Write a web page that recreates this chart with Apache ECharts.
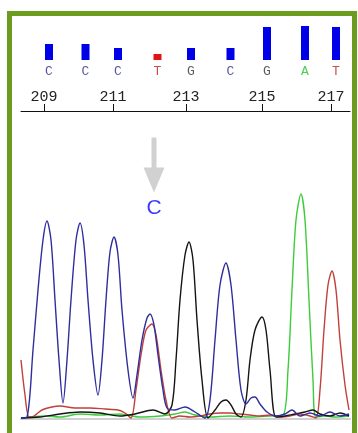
<!DOCTYPE html>
<html>
<head>
<meta charset="utf-8">
<script src="https://cdn.jsdelivr.net/npm/echarts@6/dist/echarts.min.js"></script>
<style>
  html, body { margin: 0; padding: 0; background: #ffffff; }
  #chart { width: 358px; height: 433px; }
</style>
</head>
<body>
<div id="chart"></div>
<script>
// Base calls, their scan positions and quality values
const BASES = ['C', 'C', 'C', 'T', 'G', 'C', 'G', 'A', 'T'];
const BASE_SCAN = [28, 64.5, 97, 136.5, 170, 209.5, 246, 284, 315];
const QUALITY = [16, 16, 12, 6, 12, 12, 33, 34, 33];
const LOW_QUALITY = 10;

// Ruler ticks (base numbering)
const TICK_SCAN = [23, 92, 165, 241, 310];
const TICK_LABEL = ['209', '211', '213', '215', '217'];

// Variant marker
const VARIANT_SCAN = 133;
const VARIANT_LEVEL = 254;
const VARIANT_CALL = 'C';

// Trace intensities per channel: [scan, signal]
const TRACE_A = [
  [0, 1], [9, 2], [24, 3], [39, 2], [59, 5], [79, 4], [99, 5], [119, 2], [139, 3],
  [154, 5], [164, 7], [174, 4], [189, 2], [209, 3], [229, 2], [249, 3], [262, 4],
  [267, 49], [271, 129], [275, 199], [280, 225], [284, 199], [288, 119], [292, 39],
  [295, 2], [304, 3], [314, 2], [328, 3]
];
const TRACE_C = [
  [0, 1], [6, 2], [12, 69], [17, 129], [22, 179], [26, 198], [30, 179], [34, 119],
  [38, 59], [42, 16], [46, 59], [50, 119], [55, 179], [59, 196], [63, 174], [67, 119],
  [72, 59], [77, 24], [81, 59], [85, 119], [89, 167], [93, 182], [97, 164], [101, 109],
  [107, 49], [112, 21], [116, 44], [121, 79], [126, 101], [129, 105], [133, 94],
  [137, 64], [142, 29], [146, 11], [154, 9], [164, 12], [174, 7], [184, 1], [189, 19],
  [194, 79], [199, 134], [205, 156], [210, 134], [215, 79], [220, 29], [225, 15],
  [230, 21], [234, 22], [239, 15], [246, 7], [255, 3], [264, 5], [271, 9], [279, 3],
  [289, 6], [299, 3], [309, 7], [319, 3], [328, 5]
];
const TRACE_G = [
  [0, 1], [19, 2], [39, 5], [59, 7], [79, 6], [99, 3], [114, 5], [132, 9], [144, 5],
  [151, 14], [155, 59], [159, 119], [164, 164], [168, 177], [172, 159], [176, 99],
  [181, 39], [187, 1], [194, 9], [200, 17], [205, 19], [210, 14], [215, 5], [220, 2],
  [225, 19], [229, 59], [234, 89], [241, 102], [245, 89], [249, 49], [255, 2],
  [264, 3], [274, 5], [284, 7], [292, 9], [299, 5], [309, 3], [319, 6], [328, 3]
];
const TRACE_T = [
  [0, 59], [4, 24], [8, 2], [13, 3], [21, 9], [31, 12], [39, 13], [54, 11], [69, 11],
  [84, 10], [97, 9], [104, 6], [110, 1], [115, 29], [120, 64], [125, 89], [131, 95],
  [135, 84], [140, 49], [145, 19], [151, 1], [159, 3], [169, 2], [179, 3], [189, 5],
  [199, 6], [209, 6], [219, 5], [229, 4], [239, 3], [249, 4], [259, 2], [269, 3],
  [279, 5], [289, 3], [295, 1], [299, 29], [303, 89], [307, 134], [311, 148],
  [315, 129], [319, 79], [324, 34], [328, 9]
];

const CALL_COLOR = { A: '#22c422', C: '#2a2a85', G: '#333333', T: '#b82222' };
const TRACE_COLOR = { A: '#3ccc3c', C: '#2e2e9e', G: '#141414', T: '#c0403a' };
const FRAME = '#6b9c20';

const chart = echarts.init(document.getElementById('chart'), null, { renderer: 'canvas' });

function traceSeries(data, base) {
  return {
    type: 'line',
    xAxisIndex: 1,
    yAxisIndex: 1,
    data: data,
    showSymbol: false,
    smooth: 0.3,
    silent: true,
    lineStyle: { color: TRACE_COLOR[base], width: 1.4 }
  };
}

chart.setOption({
  animation: false,
  backgroundColor: '#ffffff',
  grid: [
    { left: 21, right: 8, top: 20, height: 91 },
    { left: 21, right: 8, top: 130, bottom: 14 }
  ],
  xAxis: [
    {
      gridIndex: 0, type: 'value', min: 0, max: 329,
      splitLine: { show: false },
      axisLine: { onZero: false, lineStyle: { color: '#111', width: 1 } },
      axisTick: {
        inside: true, length: 7, customValues: TICK_SCAN,
        lineStyle: { color: '#111', width: 1 }
      },
      axisLabel: {
        inside: true, margin: 6, customValues: TICK_SCAN,
        formatter: function (v) { return TICK_LABEL[TICK_SCAN.indexOf(v)]; },
        fontFamily: 'Liberation Mono, Courier New, monospace',
        fontSize: 15, color: '#222'
      }
    },
    {
      gridIndex: 1, type: 'value', min: 0, max: 329,
      splitLine: { show: false },
      axisLine: { onZero: false, lineStyle: { color: '#d0d0d0', width: 2 } },
      axisTick: { show: false },
      axisLabel: { show: false }
    }
  ],
  yAxis: [
    { gridIndex: 0, type: 'value', min: -51, max: 40, show: false },
    { gridIndex: 1, type: 'value', min: 0, max: 289, show: false }
  ],
  series: [
    {
      type: 'bar',
      xAxisIndex: 0, yAxisIndex: 0,
      barWidth: 8,
      silent: true,
      data: BASES.map(function (b, i) {
        return {
          value: [BASE_SCAN[i], QUALITY[i]],
          itemStyle: { color: QUALITY[i] < LOW_QUALITY ? '#e01414' : '#0000e8' }
        };
      })
    },
    {
      type: 'scatter',
      xAxisIndex: 0, yAxisIndex: 0,
      symbolSize: 0,
      silent: true,
      data: BASES.map(function (b, i) {
        return {
          value: [BASE_SCAN[i], -12],
          label: {
            show: true, position: 'inside', formatter: b,
            color: CALL_COLOR[b],
            fontFamily: 'Liberation Mono, Courier New, monospace',
            fontSize: 13
          }
        };
      })
    },
    traceSeries(TRACE_A, 'A'),
    traceSeries(TRACE_T, 'T'),
    traceSeries(TRACE_G, 'G'),
    traceSeries(TRACE_C, 'C'),
    {
      type: 'scatter',
      xAxisIndex: 1, yAxisIndex: 1,
      symbol: 'path://M8,0 L13,0 L13,30 L21,30 L10.5,55 L0,30 L8,30 Z',
      symbolSize: [21, 55],
      symbolKeepAspect: false,
      silent: true,
      itemStyle: { color: '#c6c6c6' },
      label: {
        show: true, position: 'bottom', distance: 5,
        formatter: VARIANT_CALL,
        color: '#0a0aff',
        fontFamily: 'Liberation Sans, Arial, sans-serif',
        fontSize: 21
      },
      data: [[VARIANT_SCAN, VARIANT_LEVEL]]
    }
  ],
  graphic: [
    { type: 'rect', silent: true, shape: { x: 7, y: 11, width: 350, height: 5 }, style: { fill: FRAME } },
    { type: 'rect', silent: true, shape: { x: 7, y: 11, width: 5, height: 422 }, style: { fill: FRAME } },
    { type: 'rect', silent: true, shape: { x: 352, y: 11, width: 5, height: 422 }, style: { fill: FRAME } }
  ]
});
</script>
</body>
</html>
